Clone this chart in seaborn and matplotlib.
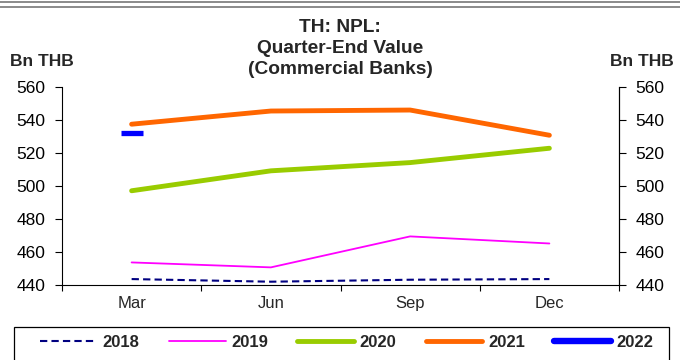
import matplotlib
matplotlib.use("Agg")
import matplotlib.pyplot as plt
from matplotlib.lines import Line2D
from matplotlib.patches import Rectangle
import numpy as np
import pandas as pd
import seaborn as sns

sns.set_theme(style="white")
plt.rcParams["font.family"] = ["Liberation Sans", "DejaVu Sans"]

quarters = ["Mar", "Jun", "Sep", "Dec"]
npl_2018 = [443.6, 442.0, 443.2, 443.6]
npl_2019 = [453.7, 450.7, 469.5, 465.2]
npl_2020 = [497.2, 509.3, 514.3, 523.0]
npl_2021 = [537.6, 545.6, 546.2, 530.9]
npl_2022 = [532.1]

series = {
    "2018": npl_2018,
    "2019": npl_2019,
    "2020": npl_2020,
    "2021": npl_2021,
    "2022": npl_2022,
}
styles = {
    "2018": dict(color="#000080", lw=1.5, ls=(0, (3.5, 2))),
    "2019": dict(color="#FF00FF", lw=1.3, ls="-"),
    "2020": dict(color="#99CC00", lw=3.5, ls="-"),
    "2021": dict(color="#FF6600", lw=3.5, ls="-"),
    "2022": dict(color="#0000FF", lw=4.6, ls="-"),
}

rows = []
for yr, vals in series.items():
    for i, v in enumerate(vals):
        rows.append({"year": yr, "pos": i, "value": v})
df = pd.DataFrame(rows)

W, H = 680, 360
fig = plt.figure(figsize=(6.8, 3.6), dpi=100)
ax = fig.add_axes([62 / W, 75 / H, 557 / W, 197.7 / H])

for yr in ["2018", "2019", "2020", "2021"]:
    st = styles[yr]
    sns.lineplot(data=df[df["year"] == yr], x="pos", y="value", ax=ax,
                 color=st["color"], linewidth=st["lw"], linestyle=st["ls"],
                 legend=False, solid_capstyle="round")
sub = df[df["year"] == "2022"]
sns.lineplot(data=sub, x="pos", y="value", ax=ax, color=styles["2022"]["color"],
             marker="_", markersize=16, markeredgewidth=3.8,
             markeredgecolor=styles["2022"]["color"], legend=False)

ax.set_xlim(-0.5, 3.5)
ax.set_ylim(440, 560)
ax.set_yticks(np.arange(440, 561, 20))
ax.set_xticks(np.arange(-0.5, 3.6, 1.0))
ax.set_xticklabels([])
ax.set_xticks(range(len(quarters)), minor=True)
ax.set_xticklabels(quarters, minor=True)
ax.tick_params(axis="x", which="major", direction="out", length=4, width=0.8,
               colors="black", bottom=True)
ax.tick_params(axis="x", which="minor", length=0, labelsize=12, pad=8)
ax.tick_params(axis="y", direction="out", length=5, width=0.8, labelsize=12.5,
               colors="black", left=True, pad=7)
ax.set_xlabel("")
ax.set_ylabel("")
for s in ["left", "bottom", "right"]:
    ax.spines[s].set_visible(True)
    ax.spines[s].set_color("black")
    ax.spines[s].set_linewidth(0.8)
ax.spines["top"].set_visible(False)

ax2 = ax.twinx()
ax2.set_ylim(440, 560)
ax2.set_yticks(np.arange(440, 561, 20))
ax2.tick_params(axis="y", direction="out", length=5, width=0.8, labelsize=12.5,
                colors="black", right=True, pad=7)
for s in ["left", "top", "bottom"]:
    ax2.spines[s].set_visible(False)
ax2.spines["right"].set_color("black")
ax2.spines["right"].set_linewidth(0.8)
ax2.grid(False)
ax.grid(False)

fig.text(0.5, 1 - 48.5 / H, "TH: NPL:\nQuarter-End Value\n(Commercial Banks)",
         ha="center", va="center", fontsize=13.8, fontweight="bold",
         linespacing=1.3)
fig.text(42 / W, 1 - 61 / H, "Bn THB", ha="center", va="center",
         fontsize=12.5, fontweight="bold")
fig.text(642 / W, 1 - 61 / H, "Bn THB", ha="center", va="center",
         fontsize=12.5, fontweight="bold")

# double rule along the top edge
fig.add_artist(Line2D([0, 1], [1 - 1.5 / H, 1 - 1.5 / H],
                      transform=fig.transFigure, color="#777777", lw=1.2))
fig.add_artist(Line2D([0, 1], [1 - 7 / H, 1 - 7 / H],
                      transform=fig.transFigure, color="#777777", lw=1.2))

# legend box running off the bottom edge
fig.add_artist(Rectangle((14 / W, -0.05), 655 / W, 0.05 + (H - 326.5) / H,
                         transform=fig.transFigure, fill=False,
                         edgecolor="black", lw=0.9))

handles = [Line2D([], [], color=styles[yr]["color"], lw=styles[yr]["lw"],
                  ls=styles[yr]["ls"], solid_capstyle="round") for yr in series]
leg = fig.legend(handles, list(series.keys()), loc="center",
                 bbox_to_anchor=(347 / W, 1 - 342.5 / H),
                 ncol=5, frameon=False, handlelength=3.4, handletextpad=0.35,
                 columnspacing=1.75, borderaxespad=0, borderpad=0,
                 prop={"weight": "bold", "size": 12})

fig.savefig("out.png", dpi=100)
